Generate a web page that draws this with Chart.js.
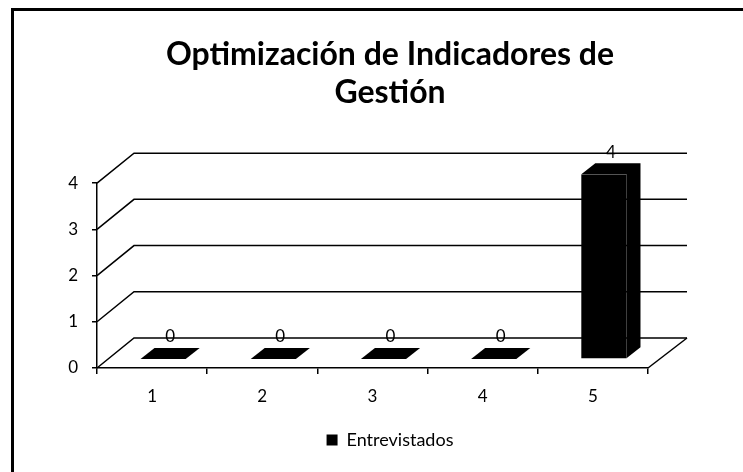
<!DOCTYPE html>
<html>
<head>
<meta charset="utf-8">
<script src="https://cdn.jsdelivr.net/npm/chart.js@4.4.1/dist/chart.umd.min.js"></script>
<style>
  html, body { margin: 0; padding: 0; background: #fff; }
  #wrap { width: 743px; height: 472px; }
</style>
</head>
<body>
<div id="wrap"><canvas id="grafico"></canvas></div>
<script>
const categorias = ['1', '2', '3', '4', '5'];
const entrevistados = [0, 0, 0, 0, 4];
const titulo = ['Optimización de Indicadores de', 'Gestión'];
const serie = 'Entrevistados';

// fake 3D: back wall offset and bar depth
const PARED = { dx: 37, dy: -30 };
const BARRA = { dx: 14, dy: -11, sx: 11, sy: -9 };

const marco = {
  id: 'marco',
  beforeDraw(chart) {
    const c = chart.ctx;
    c.save();
    c.fillStyle = '#fff';
    c.fillRect(0, 0, chart.width, chart.height);
    c.strokeStyle = '#000';
    c.lineWidth = 3;
    c.strokeRect(12.5, 9.5, chart.width + 20, chart.height + 20);
    c.restore();
  }
};

const pared = {
  id: 'pared',
  beforeDatasetsDraw(chart) {
    const c = chart.ctx;
    const y = chart.scales.y;
    const { left, right, bottom } = chart.chartArea;
    c.save();
    c.strokeStyle = '#000';
    c.lineWidth = 1.5;
    y.ticks.forEach(t => {
      const py = y.getPixelForValue(t.value);
      c.beginPath();
      c.moveTo(left, py);
      c.lineTo(left + PARED.dx, py + PARED.dy);
      c.lineTo(right + PARED.dx + 2, py + PARED.dy);
      c.stroke();
    });
    c.beginPath();
    c.moveTo(right, bottom);
    c.lineTo(right + PARED.dx + 2, bottom + PARED.dy);
    c.stroke();
    c.restore();

    // bars sit a bit inside the floor
    c.save();
    c.translate(BARRA.sx, BARRA.sy);
  },
  afterDatasetsDraw(chart) {
    const c = chart.ctx;
    const meta = chart.getDatasetMeta(0);
    c.fillStyle = '#000';
    meta.data.forEach(bar => {
      const p = bar.getProps(['x', 'y', 'base', 'width'], true);
      const x0 = p.x - p.width / 2, x1 = p.x + p.width / 2;
      c.beginPath();
      c.moveTo(x0, p.y);
      c.lineTo(x0 + BARRA.dx, p.y + BARRA.dy);
      c.lineTo(x1 + BARRA.dx, p.y + BARRA.dy);
      c.lineTo(x1 + BARRA.dx, p.base + BARRA.dy);
      c.lineTo(x1, p.base);
      c.lineTo(x1, p.y);
      c.closePath();
      c.fill();
    });
    c.font = '17px Lato';
    c.textAlign = 'center';
    c.textBaseline = 'middle';
    meta.data.forEach((bar, i) => {
      const p = bar.getProps(['x', 'y'], true);
      c.fillText(String(entrevistados[i]), p.x + BARRA.dx / 2, p.y + BARRA.dy - 11);
    });
    c.restore();
  }
};

new Chart(document.getElementById('grafico'), {
  type: 'bar',
  data: {
    labels: categorias,
    datasets: [{
      label: serie,
      data: entrevistados,
      backgroundColor: '#000',
      borderWidth: 0,
      barPercentage: 0.41,
      categoryPercentage: 1
    }]
  },
  options: {
    responsive: true,
    maintainAspectRatio: false,
    animation: false,
    layout: { padding: { left: 37, right: 0, top: 0, bottom: 13 } },
    plugins: {
      title: {
        display: true,
        text: titulo,
        color: '#000',
        font: { family: 'Lato', size: 32, weight: 'bold', lineHeight: 1.19 },
        padding: { top: 36, bottom: 71 }
      },
      legend: {
        position: 'bottom',
        labels: {
          color: '#000',
          font: { family: 'Lato', size: 18 },
          boxWidth: 11, boxHeight: 11,
          padding: 12
        }
      },
      tooltip: { enabled: false }
    },
    scales: {
      x: {
        afterFit(s) { s.height = 51; },
        grid: { display: true, offset: true, drawOnChartArea: false, tickLength: 6, color: '#000', lineWidth: 1.5 },
        border: { color: '#000', width: 1.5 },
        ticks: { color: '#000', font: { family: 'Lato', size: 17 }, padding: 12 }
      },
      y: {
        min: 0, max: 4,
        afterFit(s) { s.width = 60; },
        grid: { drawOnChartArea: false, tickLength: 5, color: '#000', lineWidth: 1.5 },
        border: { color: '#000', width: 1.5 },
        ticks: { stepSize: 1, color: '#000', font: { family: 'Lato', size: 17 }, padding: 14 }
      },
      // empty right-hand strip where the 3D wall runs on
      lado: {
        position: 'right',
        afterFit(s) { s.width = 95; },
        grid: { display: false },
        border: { display: false },
        ticks: { display: false }
      }
    }
  },
  plugins: [marco, pared]
});
</script>
</body>
</html>
